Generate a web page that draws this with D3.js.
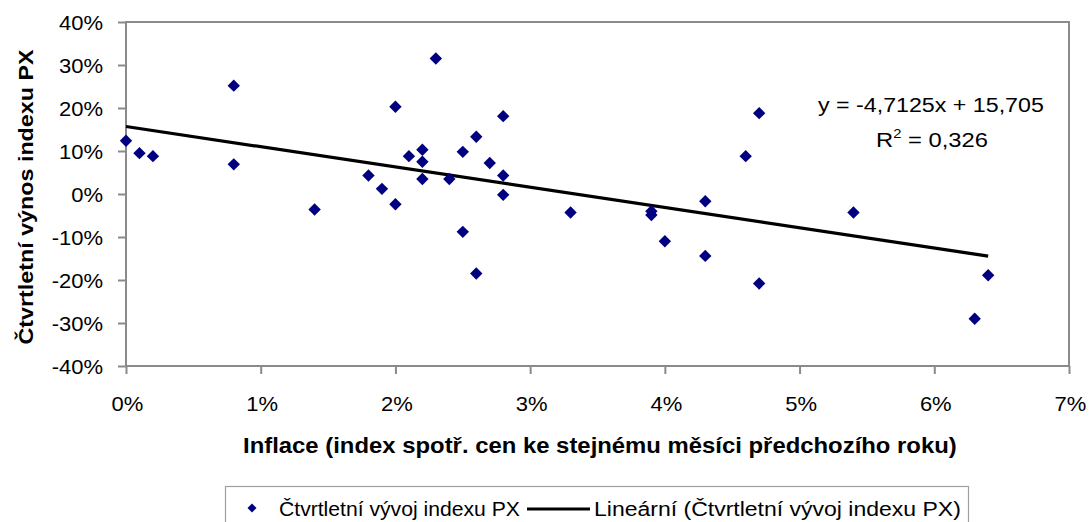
<!DOCTYPE html>
<html><head><meta charset="utf-8">
<script src="https://cdn.jsdelivr.net/npm/d3@7"></script>
<style>
body{margin:0;background:#fff}
svg{display:block}
text{font-family:"Liberation Sans",Arial,sans-serif;fill:#000}
</style>
</head><body>
<svg id="chart" width="1089" height="522"></svg>
<script>
// Data (percent)
const inflation = [0, 0.1, 0.2, 0.8, 0.8, 1.4, 1.8, 1.9, 2.0, 2.0, 2.1, 2.2, 2.2, 2.2, 2.3, 2.4, 2.5, 2.5, 2.6, 2.6, 2.7, 2.8, 2.8, 2.8, 3.3, 3.9, 3.9, 4.0, 4.3, 4.3, 4.6, 4.7, 4.7, 5.4, 6.3, 6.4];
const quarterlyReturn = [12.4, 9.5, 8.8, 25.2, 6.9, -3.6, 4.3, 1.2, 20.3, -2.4, 8.8, 10.3, 7.5, 3.5, 31.5, 3.5, 9.8, -8.8, 13.3, -18.5, 7.2, 18.1, 4.3, -0.2, -4.3, -4.0, -4.9, -11.0, -1.7, -14.4, 8.8, 18.8, -20.8, -4.3, -29.0, -18.9];
const xTickValues = [0, 1, 2, 3, 4, 5, 6, 7];
const yTickValues = [-40, -30, -20, -10, 0, 10, 20, 30, 40];
const trendSlope = -4.7125;
const trendIntercept = 15.705;
const equationText = "y = -4,7125x + 15,705";
const r2Value = "0,326";
const xTitle = "Inflace (index spotř. cen ke stejnému měsíci předchozího roku)";
const yTitle = "Čtvrtletní výnos indexu PX";
const seriesName = "Čtvrtletní vývoj indexu PX";
const trendName = "Lineární (Čtvrtletní vývoj indexu PX)";

const svg = d3.select("#chart");
const plot = {left: 126, right: 1069, top: 22, bottom: 366};
const SX = 1.1; // horizontal text stretch for tick labels
const markerColor = "#000080";
const FONT = '"Liberation Sans",Arial,sans-serif';

const x = d3.scaleLinear().domain([0, 7]).range([plot.left, plot.right]);
const y = d3.scaleLinear().domain([-40, 40]).range([plot.bottom, plot.top]);

// place a text so that it spans [left, left+width] horizontally
function fitText(sel, left, baseline, width) {
  sel.attr("text-anchor", "start").attr("transform", `translate(${left},${baseline})`);
  const w = sel.node().getBBox().width;
  sel.attr("transform", `translate(${left},${baseline}) scale(${width / w},1)`);
  return sel;
}

// plot border
svg.append("rect").attr("x", plot.left).attr("y", plot.top)
  .attr("width", plot.right - plot.left).attr("height", plot.bottom - plot.top)
  .attr("fill", "none").attr("stroke", "#8a8a8a").attr("stroke-width", 2);

// axes
const yAxis = svg.append("g").attr("transform", `translate(${plot.left},0)`)
  .call(d3.axisLeft(y).tickValues(yTickValues).tickSize(8).tickFormat(d => d + "%"));
yAxis.select(".domain").remove();
yAxis.selectAll("line").attr("stroke", "#8a8a8a").attr("stroke-width", 2);
yAxis.selectAll("text").attr("x", null).attr("dy", null)
  .style("font-size", "20px").style("font-family", FONT)
  .attr("transform", `translate(-23,7) scale(${SX},1)`);

const xAxis = svg.append("g").attr("transform", `translate(0,${plot.bottom})`)
  .call(d3.axisBottom(x).tickValues(xTickValues).tickSize(8).tickFormat(d => d + "%"));
xAxis.select(".domain").remove();
xAxis.selectAll("line").attr("stroke", "#8a8a8a").attr("stroke-width", 2);
xAxis.selectAll("text").attr("y", null).attr("dy", null)
  .style("font-size", "20px").style("font-family", FONT)
  .attr("transform", `translate(1,45) scale(${SX},1)`);

// trend line
const tx = d3.extent(inflation);
svg.append("line")
  .attr("x1", x(tx[0])).attr("y1", y(trendSlope * tx[0] + trendIntercept))
  .attr("x2", x(tx[1])).attr("y2", y(trendSlope * tx[1] + trendIntercept))
  .attr("stroke", "#000").attr("stroke-width", 3.2);

// points
const diamond = s => `M0,${-s}L${s},0L0,${s}L${-s},0Z`;
svg.append("g").selectAll("path").data(inflation.map((v, i) => [v, quarterlyReturn[i]]))
  .join("path")
  .attr("transform", d => `translate(${x(d[0])},${y(d[1])})`)
  .attr("d", diamond(6.2)).attr("fill", markerColor);

// equation
fitText(svg.append("text").style("font-size", "21px").text(equationText), 818, 112, 226);
const r2 = svg.append("text").style("font-size", "21px");
r2.append("tspan").text("R");
r2.append("tspan").attr("dy", -9).style("font-size", "13px").text("2");
r2.append("tspan").attr("dy", 9).text(" = " + r2Value);
fitText(r2, 876, 147, 112);

// axis titles
fitText(svg.append("text").style("font-size", "22px").style("font-weight", "bold").text(xTitle), 243, 453, 714);
svg.append("text").attr("transform", `translate(33,197) rotate(-90)`)
  .attr("text-anchor", "middle").style("font-size", "21px").style("font-weight", "bold")
  .attr("textLength", 295).attr("lengthAdjust", "spacingAndGlyphs").text(yTitle);

// legend
const lg = svg.append("g");
lg.append("rect").attr("x", 225.5).attr("y", 486.5).attr("width", 743).attr("height", 60)
  .attr("fill", "#fff").attr("stroke", "#a0a0a0").attr("stroke-width", 1.2);
lg.append("path").attr("transform", "translate(252,508)").attr("d", diamond(4.5)).attr("fill", markerColor);
fitText(lg.append("text").style("font-size", "21px").text(seriesName), 279, 516, 241);
lg.append("line").attr("x1", 527).attr("x2", 590).attr("y1", 509).attr("y2", 509)
  .attr("stroke", "#000").attr("stroke-width", 3);
fitText(lg.append("text").style("font-size", "21px").text(trendName), 594, 516, 367);
</script>
</body></html>
